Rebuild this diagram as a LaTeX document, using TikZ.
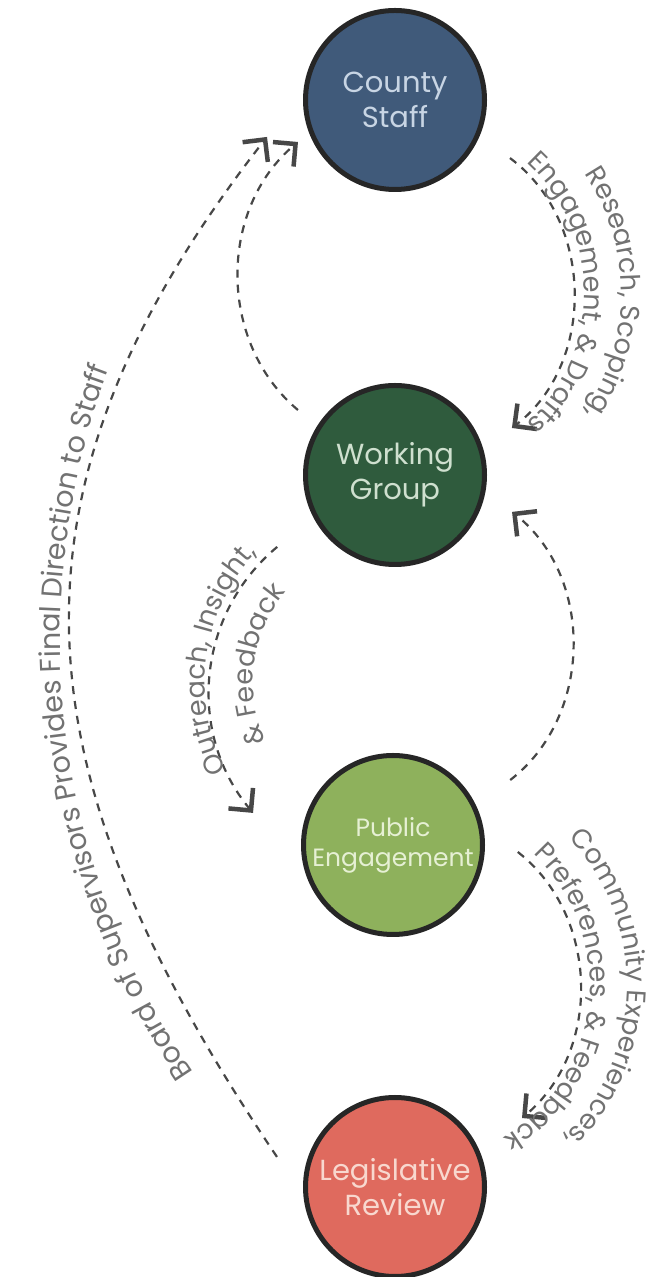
\documentclass[tikz,border=0pt]{standalone}
\usepackage{fontspec}
\setmainfont{Poppins}
\usetikzlibrary{arrows.meta,decorations.text}
\definecolor{csfill}{HTML}{405A7A}
\definecolor{cstext}{HTML}{C8D5E4}
\definecolor{wgfill}{HTML}{2F5B3D}
\definecolor{wgtext}{HTML}{CFE0CF}
\definecolor{pefill}{HTML}{8EB15C}
\definecolor{petext}{HTML}{E6F0D4}
\definecolor{lrfill}{HTML}{DF6A5E}
\definecolor{lrtext}{HTML}{F8D8CF}
\definecolor{ring}{HTML}{262626}
\definecolor{dashc}{HTML}{474747}
\definecolor{lblc}{HTML}{727272}
\newcommand\lblfont{\fontsize{27}{30}\selectfont}
\newcommand\boardfont{\fontsize{28.5}{30}\selectfont}
\pgfdeclarearrow{
  name = Lcorner,
  setup code = {
    \pgfarrowssettipend{0pt}
    \pgfarrowssetlineend{-5pt}
    \pgfarrowsupperhullpoint{-19.2pt}{16pt}
    \pgfarrowshullpoint{0pt}{0pt}
  },
  drawing code = {
    \pgfsetdash{}{0pt}
    \pgfsetlinewidth{4.5pt}
    \pgfsetmiterjoin
    \pgfsetbuttcap
    \pgfpathmoveto{\pgfqpoint{-19.2pt}{16pt}}
    \pgfpathlineto{\pgfqpoint{-3.2pt}{0pt}}
    \pgfpathlineto{\pgfqpoint{-19.2pt}{-16pt}}
    \pgfusepathqstroke
  }
}
\begin{document}
\begin{tikzpicture}[x=1pt,y=1pt,
  hub/.style={circle, draw=ring, line width=5pt, minimum size=179pt, inner sep=0pt, align=center},
  bigtxt/.style={font=\fontsize{29}{35}\selectfont},
  conn/.style={draw=dashc, line width=2.2pt, dash pattern=on 8pt off 7pt, -{Lcorner}},
  lbl/.style={decorate, decoration={text along path, text align=center, text color=lblc}}]
\useasboundingbox (0,0) rectangle (654,1277);
\fill[white] (0,0) rectangle (654,1277);
% nodes
\node[hub, bigtxt, fill=csfill, text=cstext] (cs) at (395,1177) {County\\Staff};
\node[hub, bigtxt, fill=wgfill, text=wgtext] (wg) at (395,802) {Working\\Group};
\node[hub, font=\fontsize{25}{30}\selectfont, fill=pefill, text=petext] (pe) at (393,432) {Public\\Engagement};
\node[hub, bigtxt, fill=lrfill, text=lrtext] (lr) at (395,90) {Legislative\\Review};
% connectors
\draw[conn] ([shift={(-26.8:128.8pt)}]cs.center) to[bend left=53] ([shift={(21.9:126pt)}]wg.center);
\draw[conn] ([shift={(146.2:116.8pt)}]wg.center) to[bend left=50] ([shift={(203.4:105.7pt)}]cs.center);
\draw[conn] ([shift={(165.7:121.8pt)}]lr.center) to[out=124, in=232, looseness=1.15] ([shift={(196.1:133.2pt)}]cs.center);
\draw[conn] ([shift={(211.4:138pt)}]wg.center) to[bend right=45] ([shift={(167.1:143.6pt)}]pe.center);
\draw[conn] ([shift={(29:134pt)}]pe.center) to[bend right=52] ([shift={(-17.5:122.7pt)}]wg.center);
\draw[conn] ([shift={(-3.2:125pt)}]pe.center) to[bend left=51] ([shift={(28.5:144.5pt)}]lr.center);
% curved labels (polyline paths for even letter spacing)
\path[lbl, decoration={text={|\lblfont|Research, Scoping,}}]
  plot[domain=70:-70, samples=141, variable=\t] ({408.5+213*cos(\t)},{984+213*sin(\t)});
\path[lbl, decoration={text={|\lblfont|Engagement, {\&} Drafts}}]
  plot[domain=75:-75, samples=151, variable=\t] ({408.5+176*cos(\t)},{984+176*sin(\t)});
\path[lbl, decoration={text={|\lblfont|Outreach, Insight,}}]
  plot[domain=252:92, samples=161, variable=\t] ({395+190*cos(\t)},{594+190*sin(\t)});
\path[lbl, decoration={text={|\lblfont|{\&} Feedback}}]
  plot[domain=252:92, samples=161, variable=\t] ({395+142*cos(\t)},{594+142*sin(\t)});
\path[lbl, decoration={text={|\lblfont|Community Experiences,}}]
  plot[domain=79:-81, samples=161, variable=\t] ({411+216*cos(\t)},{292+216*sin(\t)});
\path[lbl, decoration={text={|\lblfont|Preferences, {\&} Feedback}}]
  plot[domain=75:-87, samples=163, variable=\t] ({411+179*cos(\t)},{292+179*sin(\t)});
\path[lbl, decoration={text={|\boardfont|Board of Supervisors Provides Final Direction to Staff}}]
  plot[domain=231.8:141.8, samples=181, variable=\t] ({830+770*cos(\t)},{637+770*sin(\t)});
\end{tikzpicture}
\end{document}
